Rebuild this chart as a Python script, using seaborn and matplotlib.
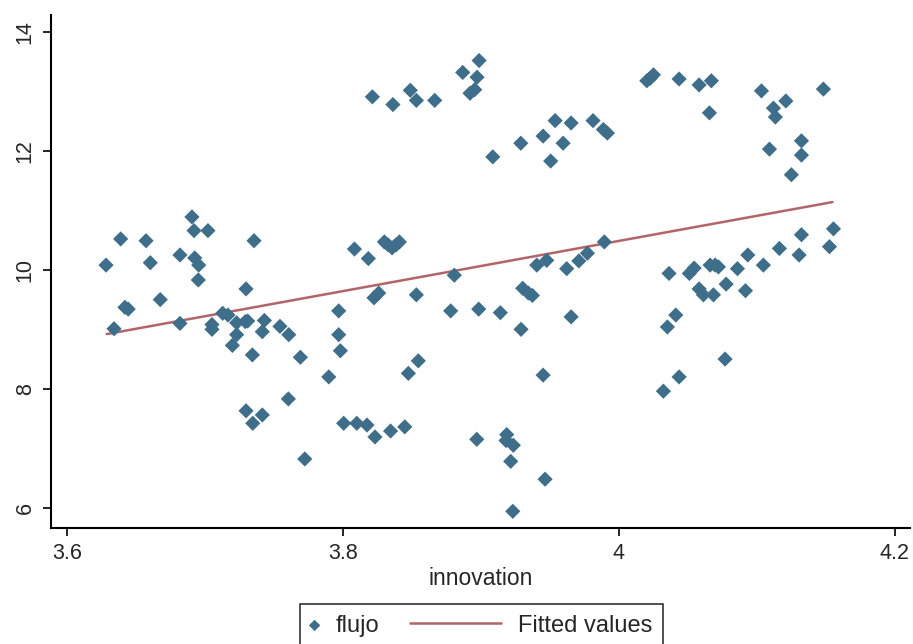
import numpy as np
import pandas as pd
import seaborn as sns
import matplotlib.pyplot as plt
from matplotlib.legend_handler import HandlerLine2D

# innovation (x) and flujo (y)
innovation = [3.6281, 3.6339, 3.6387, 3.6418, 3.6442, 3.6571, 3.6602, 3.6674, 3.6817, 3.6817,
              3.6904, 3.6919, 3.6924, 3.6953, 3.6950, 3.7020, 3.7049, 3.7049, 3.7127, 3.7165,
              3.7228, 3.7228, 3.7197, 3.7291, 3.7308, 3.7296, 3.7342, 3.7354, 3.7296, 3.7345,
              3.7414, 3.7429, 3.7414, 3.7542, 3.7606, 3.7690, 3.7603, 3.7722, 3.7896, 3.7968,
              3.7968, 3.7980, 3.8004, 3.8082, 3.8099, 3.8173, 3.8183, 3.8212, 3.8224, 3.8258,
              3.8231, 3.8299, 3.8326, 3.8355, 3.8384, 3.8408, 3.8344, 3.8361, 3.8447, 3.8473,
              3.8487, 3.8531, 3.8531, 3.8545, 3.8664, 3.8780, 3.8806, 3.8867, 3.8920, 3.8954,
              3.8971, 3.8986, 3.8969, 3.8983, 3.9085, 3.9140, 3.9186, 3.9181, 3.9234, 3.9215,
              3.9230, 3.9288, 3.9290, 3.9302, 3.9343, 3.9372, 3.9404, 3.9450, 3.9450, 3.9464,
              3.9476, 3.9505, 3.9537, 3.9595, 3.9621, 3.9653, 3.9653, 3.9709, 3.9771, 3.9812,
              3.9887, 3.9916, 3.9894, 4.0202, 4.0226, 4.0250, 4.0322, 4.0351, 4.0363, 4.0412,
              4.0436, 4.0436, 4.0510, 4.0545, 4.0581, 4.0581, 4.0612, 4.0656, 4.0670, 4.0661,
              4.0697, 4.0721, 4.0685, 4.0769, 4.0777, 4.0859, 4.0917, 4.0934, 4.1033, 4.1047,
              4.1091, 4.1120, 4.1134, 4.1163, 4.1210, 4.1250, 4.1306, 4.1323, 4.1323, 4.1323,
              4.1482, 4.1526, 4.1555]
flujo = [10.08, 9.01, 10.52, 9.37, 9.34, 10.49, 10.12, 9.50, 10.25, 9.10,
         10.89, 10.66, 10.20, 10.08, 9.83, 10.66, 9.08, 9.00, 9.27, 9.24,
         9.11, 8.91, 8.73, 9.13, 9.14, 9.68, 8.57, 10.49, 7.63, 7.42,
         7.56, 9.15, 8.96, 9.05, 8.91, 8.53, 7.83, 6.82, 8.20, 9.31,
         8.91, 8.64, 7.42, 10.35, 7.42, 7.39, 10.19, 12.91, 9.53, 9.61,
         7.19, 10.47, 10.42, 10.37, 10.42, 10.47, 7.29, 12.78, 7.36, 8.26,
         13.02, 12.85, 9.58, 8.47, 12.85, 9.31, 9.91, 13.32, 12.97, 13.03,
         13.24, 13.52, 7.15, 9.34, 11.90, 9.28, 7.23, 7.13, 7.05, 6.78,
         5.94, 12.13, 9.00, 9.69, 9.61, 9.57, 10.08, 12.25, 8.23, 6.48,
         10.16, 11.83, 12.51, 12.13, 10.02, 12.47, 9.21, 10.15, 10.28, 12.51,
         12.36, 12.30, 10.47, 13.18, 13.22, 13.28, 7.96, 9.04, 9.94, 9.24,
         13.21, 8.20, 9.94, 10.03, 13.11, 9.68, 9.58, 12.64, 13.18, 10.08,
         10.08, 10.05, 9.58, 8.50, 9.76, 10.02, 9.65, 10.25, 13.01, 10.08,
         12.03, 12.72, 12.57, 10.36, 12.84, 11.60, 10.25, 12.17, 11.93, 10.59,
         13.04, 10.39, 10.69]

# fitted values at the ends of the x range
fit_x = [3.6286, 4.1548]
fit_y = [8.92, 11.14]

xticks = [3.6, 3.8, 4.0, 4.2]
xticklabels = ["3.6", "3.8", "4", "4.2"]
yticks = [6, 8, 10, 12, 14]

df = pd.DataFrame({"innovation": innovation, "flujo": flujo})
fit = pd.DataFrame({"innovation": fit_x, "fitted": fit_y})

sns.set_style("white")
plt.rcParams['font.family'] = ['Liberation Sans', 'DejaVu Sans']

fig = plt.figure(figsize=(9.13, 6.44), dpi=100)
ax = fig.add_axes([51/913, 1-528/644, (910-51)/913, (528-15)/644])

sns.scatterplot(data=df, x="innovation", y="flujo", marker="D", s=60, color="#3e6e8a",
                edgecolor="none", label="flujo", ax=ax, zorder=3)
sns.lineplot(data=fit, x="innovation", y="fitted", color="#b0656a", lw=1.8,
             label="Fitted values", ax=ax, zorder=2)

ax.set_xlim(3.5882, 4.211)
ax.set_ylim(5.659, 14.286)
ax.set_xticks(xticks)
ax.set_xticklabels(xticklabels)
ax.set_yticks(yticks)
ax.set_xlabel("innovation", fontsize=16.5, labelpad=2)
ax.set_ylabel("")
ax.tick_params(axis="both", direction="out", length=6, width=1.2, color="black",
               labelsize=15.5, pad=5, left=True, bottom=True)
for lab in ax.get_yticklabels():
    lab.set_rotation(90)
    lab.set_va("center")

for s in ["top", "right"]:
    ax.spines[s].set_visible(False)
for s in ["left", "bottom"]:
    ax.spines[s].set_color("black")
    ax.spines[s].set_linewidth(1.5)


class WideLine(HandlerLine2D):
    # stretch the line handle to the left
    def create_artists(self, legend, orig_handle, xdescent, ydescent, width, height, fontsize, trans):
        extra = 3.5 * fontsize
        return super().create_artists(legend, orig_handle, xdescent + extra, ydescent,
                                      width + extra, height, fontsize, trans)


handles, labels = ax.get_legend_handles_labels()
leg = ax.legend(handles, labels, ncol=2, loc="upper center",
                bbox_to_anchor=(0.527, 1 - 604/644), bbox_transform=fig.transFigure,
                fontsize=17, handlelength=0.37, handletextpad=0.7, columnspacing=4.8,
                borderpad=0.45, borderaxespad=0, frameon=True, fancybox=False,
                edgecolor="black", markerscale=0.75, handler_map={handles[1]: WideLine()})
leg.get_frame().set_linewidth(1.2)

fig.savefig("out.png", dpi=100)
